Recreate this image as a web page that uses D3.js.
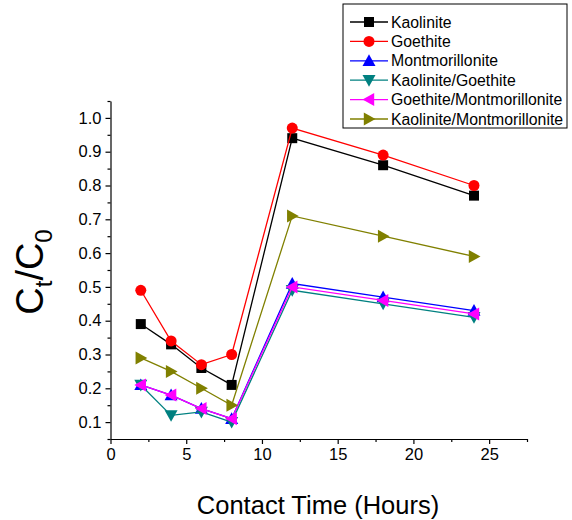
<!DOCTYPE html>
<html>
<head>
<meta charset="utf-8">
<script src="https://cdn.jsdelivr.net/npm/d3@7"></script>
<style>
  body { margin: 0; background: #fff; }
  text { font-family: "Liberation Sans", Arial, sans-serif; }
</style>
</head>
<body>
<svg></svg>
<script>
const width = 572;
const height = 520;

const hours = [2, 4, 6, 8, 12, 18, 24];
const names = ['Kaolinite', 'Goethite', 'Montmorillonite', 'Kaolinite/Goethite',
               'Goethite/Montmorillonite', 'Kaolinite/Montmorillonite'];
const kaolinite = [0.39, 0.33, 0.26, 0.21, 0.94, 0.86, 0.77];
const goethite = [0.49, 0.34, 0.27, 0.30, 0.97, 0.89, 0.80];
const montmorillonite = [0.21, 0.18, 0.14, 0.11, 0.51, 0.47, 0.43];
const kaoGoe = [0.21, 0.12, 0.13, 0.10, 0.49, 0.45, 0.41];
const goeMont = [0.21, 0.18, 0.14, 0.11, 0.50, 0.46, 0.42];
const kaoMont = [0.29, 0.25, 0.20, 0.15, 0.71, 0.65, 0.59];
const xTicks = [0, 5, 10, 15, 20, 25];
const yTicks = [0.1, 0.2, 0.3, 0.4, 0.5, 0.6, 0.7, 0.8, 0.9, 1.0];

const seriesValues = [kaolinite, goethite, montmorillonite, kaoGoe, goeMont, kaoMont];
const colors = ['#000000', '#ff0000', '#0000ff', '#008080', '#ff00ff', '#808000'];
const shapes = ['square', 'circle', 'up', 'down', 'left', 'right'];

const series = names.map((n, i) => ({
  name: n,
  color: colors[i],
  shape: shapes[i],
  points: hours.map((h, j) => ({x: h, y: seriesValues[i][j]}))
}));

const svg = d3.select('svg')
  .attr('width', width)
  .attr('height', height);

const x = d3.scaleLinear().domain([0, 27.5]).range([110.5, 527]);
const y = d3.scaleLinear().domain([0.05, 1.05]).range([439, 101]);

// axes
const xAxis = d3.axisBottom(x).tickValues(xTicks).tickSize(5).tickSizeOuter(0).tickPadding(4);
const gx = svg.append('g').attr('transform', 'translate(0,439)').call(xAxis);
gx.selectAll('text').style('font-size', '16.5px').attr('fill', '#000');
svg.append('g').attr('transform', 'translate(0,439)')
  .call(d3.axisBottom(x).tickValues(d3.range(2.5, 28, 5)).tickSize(3).tickFormat(''))
  .select('.domain').remove();

const yAxis = d3.axisLeft(y).tickValues(yTicks).tickSize(5).tickSizeOuter(0)
  .tickFormat(d3.format('.1f')).tickPadding(4);
const gy = svg.append('g').attr('transform', 'translate(110.5,0)').call(yAxis);
gy.selectAll('text').style('font-size', '16.5px').attr('fill', '#000');
svg.append('g').attr('transform', 'translate(110.5,0)')
  .call(d3.axisLeft(y).tickValues(d3.range(0.05, 1.06, 0.1)).tickSize(3).tickFormat(''))
  .select('.domain').remove();

svg.selectAll('.domain, .tick line').attr('stroke', '#000').attr('stroke-width', 1.2);

// titles
svg.append('text')
  .attr('x', 318).attr('y', 514)
  .attr('text-anchor', 'middle')
  .style('font-size', '25.5px')
  .text('Contact Time (Hours)');

const yt = svg.append('text')
  .attr('transform', 'translate(43,272) rotate(-90)')
  .attr('text-anchor', 'middle')
  .style('font-size', '38px');
yt.append('tspan').text('C');
yt.append('tspan').attr('dy', 9).style('font-size', '24px').text('t');
yt.append('tspan').attr('dy', -9).text('/C');
yt.append('tspan').attr('dy', 9).style('font-size', '24px').text('0');

// symbols
function symbolPath(shape) {
  const s = 5;
  if (shape === 'square') return `M${-s},${-s}H${s}V${s}H${-s}Z`;
  if (shape === 'circle') return d3.symbol().type(d3.symbolCircle).size(Math.PI * 5.5 * 5.5)();
  const t = 6.5;
  if (shape === 'up') return `M0,${-t}L${t},${t * 0.8}L${-t},${t * 0.8}Z`;
  if (shape === 'down') return `M0,${t}L${t},${-t * 0.8}L${-t},${-t * 0.8}Z`;
  if (shape === 'left') return `M${-t},0L${t * 0.8},${-t}L${t * 0.8},${t}Z`;
  return `M${t},0L${-t * 0.8},${-t}L${-t * 0.8},${t}Z`;
}

const line = d3.line().x(d => x(d.x)).y(d => y(d.y));

const sg = svg.selectAll('.series')
  .data(series)
  .enter()
  .append('g')
    .classed('series', true);

sg.append('path')
  .attr('d', d => line(d.points))
  .attr('fill', 'none')
  .attr('stroke', d => d.color)
  .attr('stroke-width', 1.3);

sg.each(function(d) {
  d3.select(this).selectAll('.pt')
    .data(d.points)
    .enter()
    .append('path')
      .classed('pt', true)
      .attr('transform', p => `translate(${x(p.x)},${y(p.y)})`)
      .attr('d', symbolPath(d.shape))
      .attr('fill', d.color);
});

// legend
const legend = svg.append('g').attr('transform', 'translate(343,4)');
legend.append('rect')
  .attr('width', 224).attr('height', 124)
  .attr('fill', '#fff').attr('stroke', '#000').attr('stroke-width', 1);

const rows = legend.selectAll('.row')
  .data(series)
  .enter()
  .append('g')
    .attr('transform', (d, i) => `translate(0,${18 + i * 19.4})`);

rows.append('line')
  .attr('x1', 7).attr('x2', 45)
  .attr('stroke', d => d.color)
  .attr('stroke-width', 1.3);
rows.append('path')
  .attr('transform', 'translate(26,0)')
  .attr('d', d => symbolPath(d.shape))
  .attr('fill', d => d.color);
rows.append('text')
  .attr('x', 48).attr('y', 5.5)
  .style('font-size', '15.8px')
  .text(d => d.name);
</script>
</body>
</html>
